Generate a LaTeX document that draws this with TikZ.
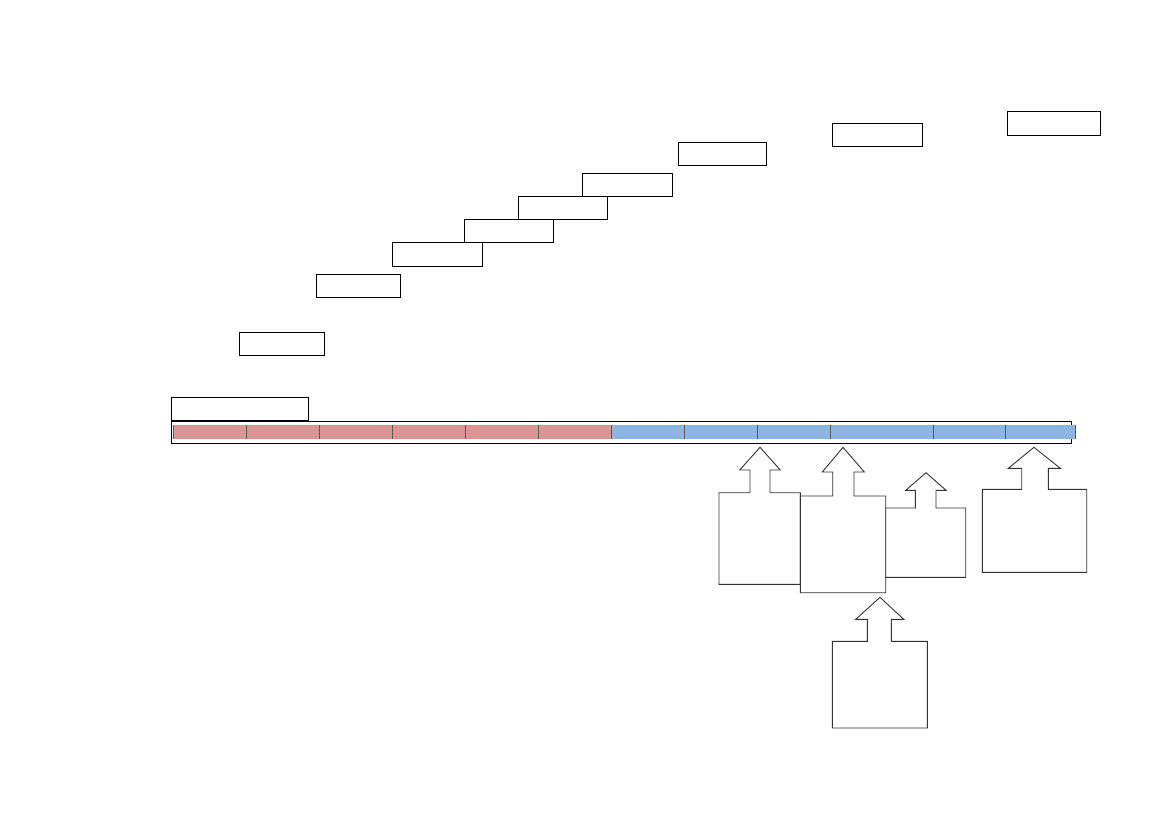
\documentclass[tikz,border=0pt]{standalone}
\definecolor{segred}{HTML}{D99694}
\definecolor{segblue}{HTML}{8EB4E3}
\definecolor{divgray}{HTML}{595959}
\tikzset{
  box/.style={draw=black, line width=1pt, inner sep=0pt, outer sep=0pt, fill=white},
  callout/.style={draw=black!80, line width=0.9pt, fill=white, line join=miter},
  divider/.style={draw=divgray, line width=0.8pt},
}
\newcommand\mkbox[5]{\node[box, minimum width={(#4-#2)*1pt}, minimum height={(#5-#3)*1pt}] (#1) at ({(#2+#4)/2},{(#3+#5)/2}) {};}
\begin{document}
\begin{tikzpicture}[x=1pt,y=-1pt]
\useasboundingbox[fill=white] (0,0) rectangle (1169,827);
% timeline frame
\mkbox{frame}{171}{421}{1071}{443}
% red segments
\foreach \a/\b [count=\i] in {173/246.5,246.5/319.5,319.5/392,392/465,465/538,538/611}{
  \fill[segred] (\a,425.3) rectangle (\b,438.7);
}
\foreach \a/\b in {611/684,684/757,757/830,830/933,933/1005,1005/1075}{
  \fill[segblue] (\a,425.3) rectangle (\b,438.7);
}
\foreach \x in {173,246.5,319.5,392,465,538,611,684,757,830,933,1005,1075}{
  \draw[divider] (\x,425.3) -- (\x,438.7);
}
% staircase boxes
\mkbox{b0}{171}{397}{308}{420}
\mkbox{b1}{239}{332}{324}{355}
\mkbox{b2}{316}{274}{400}{297}
\mkbox{b3}{392}{242}{482}{266}
\mkbox{b4}{464}{219}{553}{242}
\mkbox{b5}{518}{196}{607}{219}
\mkbox{b6}{582}{173}{672}{196}
\mkbox{b7}{678}{142}{766}{165}
\mkbox{b8}{832}{123}{922}{146}
\mkbox{b9}{1007}{111}{1100}{135}
% up-arrow callouts
\draw[callout] (719,492.7) -- (750,492.7) -- (750,470) -- (739.7,470) -- (760,447.3) coordinate (c1) -- (780.3,470) -- (770,470) -- (770,492.7) -- (800.3,492.7) -- (800.3,584.3) -- (719,584.3) -- cycle;
\draw[callout] (800.3,496) -- (832.7,496) -- (832.7,472) -- (822.3,472) -- (843,447.3) coordinate (c2) -- (864.3,472) -- (854,472) -- (854,496) -- (885.7,496) -- (885.7,592.7) -- (800.3,592.7) -- cycle;
\draw[callout] (885.7,508) -- (915.3,508) -- (915.3,490.3) -- (905.7,490.3) -- (926,472.7) coordinate (c3) -- (946,490.3) -- (936,490.3) -- (936,508) -- (965.7,508) -- (965.7,577.3) -- (885.7,577.3) -- cycle;
\draw[callout] (982.3,489.3) -- (1021.7,489.3) -- (1021.7,468.3) -- (1008.3,468.3) -- (1034,447.3) coordinate (c4) -- (1060.3,468.3) -- (1048.3,468.3) -- (1048.3,489.3) -- (1086.7,489.3) -- (1086.7,572.3) -- (982.3,572.3) -- cycle;
\draw[callout] (832.3,641.3) -- (867.3,641.3) -- (867.3,619.3) -- (855.7,619.3) -- (880,597.3) coordinate (c5) -- (903.7,619.3) -- (891.3,619.3) -- (891.3,641.3) -- (927.3,641.3) -- (927.3,728) -- (832.3,728) -- cycle;
\end{tikzpicture}
\end{document}
